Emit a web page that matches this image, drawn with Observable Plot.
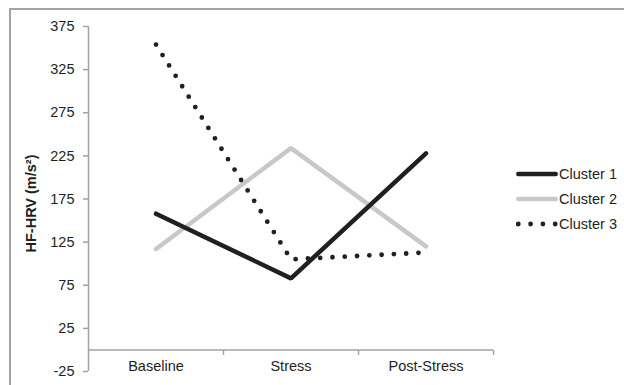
<!DOCTYPE html>
<html><head><meta charset="utf-8">
<script src="https://cdn.jsdelivr.net/npm/d3@7"></script>
<script src="https://cdn.jsdelivr.net/npm/@observablehq/plot@0.6"></script>
<style>
html,body{margin:0;padding:0;background:#fff;overflow:hidden;width:624px;height:385px;}
#wrap{position:relative;width:624px;height:385px;font-family:"Liberation Sans",Arial,sans-serif;overflow:hidden;}
#border{position:absolute;left:9px;top:8px;width:700px;height:500px;border:2px solid #a3a3a3;box-sizing:border-box;}
#chart{position:absolute;left:0;top:0;}
#legend{position:absolute;left:516px;top:161.5px;font-size:14.5px;color:#231f20;}
.item{display:flex;align-items:center;height:25px;white-space:nowrap;}
.item svg{display:block;flex:none;}
</style></head><body>
<div id="wrap"><div id="border"></div><div id="chart"></div><div id="legend"></div></div>
<script>
const categories = ["Baseline", "Stress", "Post-Stress"];
const seriesNames = ["Cluster 1", "Cluster 2", "Cluster 3"];
const cluster1 = [158, 83, 228];
const cluster2 = [117, 234, 120];
const cluster3 = [354, 105, 113];
const yTicks = [-25, 25, 75, 125, 175, 225, 275, 325, 375];
const yLabel = "HF-HRV (m/s²)";

const colors = ["#231f20", "#c8c8c8", "#231f20"];
const dashes = [null, null, "0,12.3"];

const rowsFor = (arr, name) => arr.map((v, i) => ({i, cat: categories[i], series: name, v}));
const d1 = rowsFor(cluster1, seriesNames[0]);
const d2 = rowsFor(cluster2, seriesNames[1]);
const d3s = rowsFor(cluster3, seriesNames[2]);
const boundaries = categories.map((c, i) => i + 0.5);
const centers = categories.map((c, i) => i);

const axisGray = "#a3a3a3";

const chart = Plot.plot({
  width: 624, height: 385,
  marginLeft: 88, marginRight: 131, marginTop: 26, marginBottom: 35,
  style: {fontFamily: "'Liberation Sans', Arial, sans-serif", fontSize: "14.5px", color: "#231f20", background: "transparent", overflow: "visible"},
  x: {domain: [-0.5, categories.length - 0.5]},
  y: {domain: [yTicks[0], yTicks[yTicks.length - 1]], range: [371, 26]},
  marks: [
    Plot.ruleX([-0.5], {y1: yTicks[0], y2: yTicks[yTicks.length - 1], stroke: axisGray, strokeWidth: 1.5}),
    Plot.ruleY([0], {stroke: axisGray, strokeWidth: 1.5}),
    Plot.axisY({ticks: yTicks, tickSize: 5, tickPadding: 9, stroke: axisGray, strokeWidth: 1.5, label: null, tickFormat: d => String(d)}),
    Plot.axisX({ticks: boundaries, tickSize: 5, tickFormat: () => "", stroke: axisGray, strokeWidth: 1.5, label: null}),
    Plot.axisX({ticks: centers, tickSize: 0, tickPadding: 10, tickFormat: i => categories[i], label: null}),
    Plot.line(d2, {x: "i", y: "v", stroke: colors[1], strokeWidth: 4.5, strokeLinejoin: "miter", strokeLinecap: "round"}),
    Plot.line(d1, {x: "i", y: "v", stroke: colors[0], strokeWidth: 4.5, strokeLinejoin: "miter", strokeLinecap: "round"}),
    Plot.line(d3s, {x: "i", y: "v", stroke: colors[2], strokeWidth: 4.8, strokeDasharray: dashes[2], strokeLinecap: "round"}),
    Plot.text([yLabel], {frameAnchor: "left", textAnchor: "middle", rotate: -90, dx: -57, dy: 15, fontWeight: "bold", fill: "#231f20", fontSize: 14.5})
  ]
});
document.getElementById("chart").appendChild(chart);

const legend = document.getElementById("legend");
seriesNames.forEach((name, k) => {
  const item = document.createElement("div");
  item.className = "item";
  const ns = "http://www.w3.org/2000/svg";
  const svg = document.createElementNS(ns, "svg");
  svg.setAttribute("width", 42); svg.setAttribute("height", 10);
  const ln = document.createElementNS(ns, "line");
  ln.setAttribute("x1", 2.3); ln.setAttribute("x2", 39.7);
  ln.setAttribute("y1", 5); ln.setAttribute("y2", 5);
  ln.setAttribute("stroke", colors[k]);
  ln.setAttribute("stroke-width", k === 2 ? 4.8 : 4.5);
  ln.setAttribute("stroke-linecap", "round");
  if (dashes[k]) ln.setAttribute("stroke-dasharray", dashes[k]);
  svg.appendChild(ln);
  item.appendChild(svg);
  const t = document.createElement("span");
  t.textContent = name;
  t.style.marginLeft = "1px";
  item.appendChild(t);
  legend.appendChild(item);
});
</script>
</body></html>
